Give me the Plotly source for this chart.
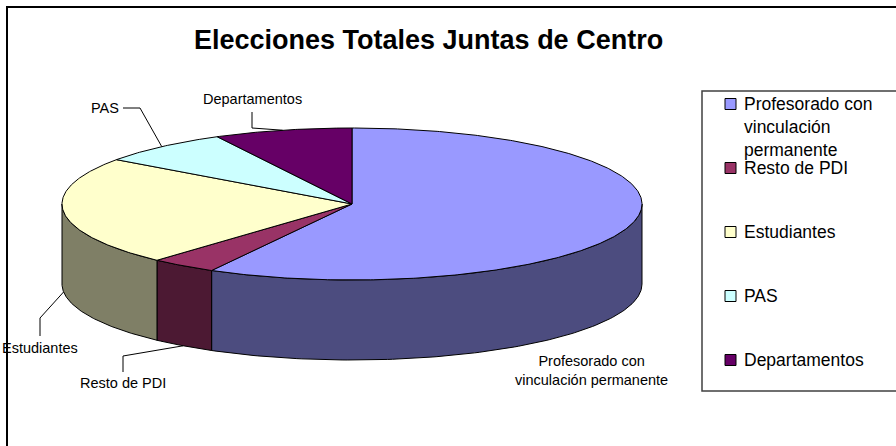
import numpy as np
import plotly.graph_objects as go

# ---------------- data ----------------
categories = ["Profesorado con vinculación permanente", "Resto de PDI",
              "Estudiantes", "PAS", "Departamentos"]
legend_labels = ["Profesorado con<br>vinculación<br>permanente", "Resto de PDI",
                 "Estudiantes", "PAS", "Departamentos"]
slice_labels = ["Profesorado con<br>vinculación permanente", "Resto de PDI",
                "Estudiantes", "PAS", "Departamentos"]
values = [58.1, 3.7, 23.2, 7.4, 7.7]
colors = ["#9999FF", "#993366", "#FFFFCC", "#CCFFFF", "#660066"]
title_text = "Elecciones Totales Juntas de Centro"

# ---------------- layout params ----------------
W, H = 896, 446
CX, CY, RX, RY, DEPTH = 352, 204, 290, 76, 80
FONT = "Liberation Sans, Arial, sans-serif"


def pt(theta_deg, dz=0.0):
    t = np.radians(theta_deg)
    return CX + RX * np.cos(t), CY - RY * np.sin(t) + dz


def shade(hexc, f=0.5):
    h = hexc.lstrip("#")
    r, g, b = (int(h[i:i + 2], 16) for i in (0, 2, 4))
    return "#%02x%02x%02x" % (int(r * f), int(g * f), int(b * f))


total = float(sum(values))
slices = []
start = 90.0
for v in values:
    sweep = 360.0 * v / total
    slices.append((start - sweep, start))
    start -= sweep

fig = go.Figure()

# side walls (front half only)
for (lo, hi), c in zip(slices, colors):
    for k in range(-2, 2):
        a, b = max(lo, 180 + 360 * k), min(hi, 360 + 360 * k)
        if b - a <= 0.01:
            continue
        ts = np.linspace(a, b, 120)
        xt, yt = pt(ts)
        xb, yb = pt(ts[::-1], DEPTH)
        xs = np.concatenate([xt, xb, xt[:1]])
        ys = np.concatenate([yt, yb, yt[:1]])
        fig.add_trace(go.Scatter(x=xs, y=ys, mode="lines", fill="toself",
                                 fillcolor=shade(c), line=dict(color="black", width=1),
                                 hoverinfo="skip", showlegend=False))

# top faces
for (lo, hi), c, name, v in zip(slices, colors, categories, values):
    ts = np.linspace(hi, lo, max(int((hi - lo) * 2), 8))
    xa, ya = pt(ts)
    xs = np.concatenate([[CX], xa, [CX]])
    ys = np.concatenate([[CY], ya, [CY]])
    fig.add_trace(go.Scatter(x=xs, y=ys, mode="lines", fill="toself",
                             fillcolor=c, line=dict(color="black", width=1),
                             name=name, hoverinfo="name", showlegend=False))

# data labels with leader lines
label_layout = {
    # index: (text x, text y, xanchor, leader start/elbow points)
    0: (591, 370, "center", None),
    1: (123, 383, "center", [(123, 372), (123, 356)]),
    2: (40, 348, "center", [(40, 336), (40, 318)]),
    3: (121, 108, "right", [(123, 108), (140, 108)]),
    4: (252, 99, "center", [(252, 112), (252, 128)]),
}
annotations = []
for i, (lo, hi) in enumerate(slices):
    tx, ty, xa, elbow = label_layout[i]
    annotations.append(dict(x=tx, y=ty, xref="x", yref="y", text=slice_labels[i],
                            showarrow=False, xanchor=xa, yanchor="middle",
                            font=dict(family=FONT, size=14.5, color="black")))
    if elbow:
        mid = (lo + hi) / 2.0
        front = np.sin(np.radians(mid)) < 0
        ex, ey = pt(mid, DEPTH if front else 0)
        lx = [p[0] for p in elbow] + [ex]
        ly = [p[1] for p in elbow] + [ey]
        fig.add_trace(go.Scatter(x=lx, y=ly, mode="lines",
                                 line=dict(color="black", width=1),
                                 hoverinfo="skip", showlegend=False))

# title
annotations.append(dict(x=428, y=40, xref="x", yref="y", text="<b>%s</b>" % title_text,
                        showarrow=False, xanchor="center", yanchor="middle",
                        font=dict(family=FONT, size=27, color="black")))

shapes = [
    # chart frame
    dict(type="rect", xref="x", yref="y", x0=7, y0=7, x1=940, y1=480,
         line=dict(color="black", width=2), fillcolor="rgba(0,0,0,0)", layer="below"),
    # legend box
    dict(type="rect", xref="x", yref="y", x0=702, y0=91, x1=920, y1=391,
         line=dict(color="#404040", width=1.5), fillcolor="white", layer="below"),
]

# manual legend
LEG_Y0, LEG_STEP, LEG_FS = 104, 64, 17.5
for i, (lab, c) in enumerate(zip(legend_labels, colors)):
    y = LEG_Y0 + LEG_STEP * i
    shapes.append(dict(type="rect", xref="x", yref="y", x0=725, x1=736,
                       y0=y - 5.5, y1=y + 5.5, fillcolor=c,
                       line=dict(color="black", width=1)))
    nlines = lab.count("<br>") + 1
    yc = y + (nlines - 1) * 1.3 * LEG_FS / 2.0
    annotations.append(dict(x=742, y=yc, xref="x", yref="y", text=lab,
                            showarrow=False, xanchor="left", yanchor="middle",
                            align="left",
                            font=dict(family=FONT, size=LEG_FS, color="black")))

fig.update_layout(
    width=W, height=H,
    margin=dict(l=0, r=0, t=0, b=0),
    paper_bgcolor="white", plot_bgcolor="white",
    xaxis=dict(range=[0, W], visible=False, fixedrange=True),
    yaxis=dict(range=[H, 0], visible=False, fixedrange=True),
    showlegend=False,
    shapes=shapes,
    annotations=annotations,
)

fig.write_html("out.html", config={"displayModeBar": False},
               post_script="document.body.style.margin='0';document.body.style.overflow='hidden';")
